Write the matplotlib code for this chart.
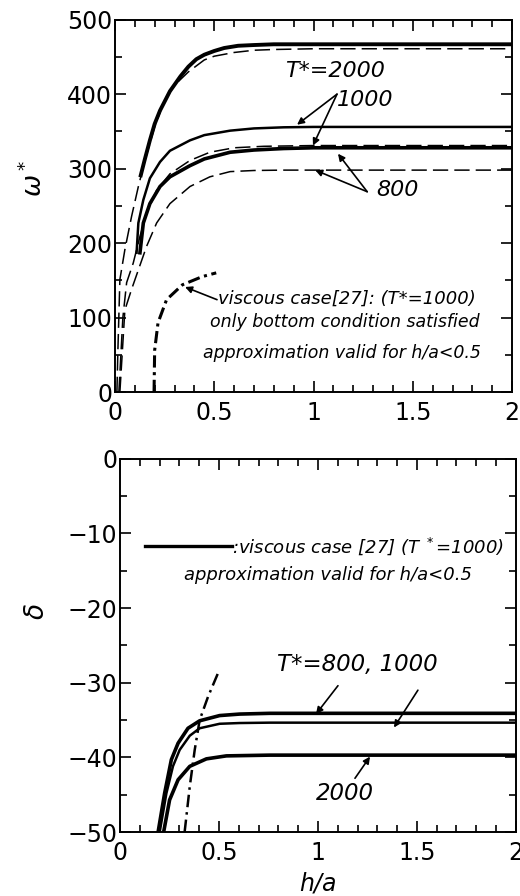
import matplotlib
matplotlib.use('Agg')
import matplotlib.pyplot as plt
from matplotlib.ticker import MultipleLocator

plt.rcParams['font.family'] = ['DejaVu Sans']
plt.rcParams['mathtext.fontset'] = 'dejavusans'

# ---- upper panel: omega* vs h/a ----
h_2000_s = [0.13, 0.15, 0.176, 0.2, 0.227, 0.277, 0.33, 0.37, 0.41, 0.45, 0.5, 0.55, 0.62, 0.7, 0.8, 2.0]
w_2000_s = [291, 312, 338, 360, 378, 404, 424, 437, 447, 453, 458, 462, 465, 466, 467, 467]
h_2000_d = [0.01, 0.015, 0.025, 0.05, 0.084, 0.118, 0.15, 0.2, 0.25, 0.3, 0.37, 0.45, 0.5, 0.6, 0.7, 0.8, 1.0, 2.0]
w_2000_d = [0, 56, 151, 191, 236, 276, 310, 356, 392, 412, 430, 446, 451, 456, 459, 460, 461, 461]

h_1000_s = [0.109, 0.118, 0.143, 0.176, 0.227, 0.277, 0.378, 0.45, 0.58, 0.7, 0.85, 1.0, 2.0]
w_1000_s = [187, 227, 258, 287, 309, 324, 338, 345, 351, 354, 355.5, 356, 356]
h_1000_d = [0.02, 0.04, 0.059, 0.092, 0.126, 0.16, 0.21, 0.277, 0.378, 0.478, 0.6, 0.75, 1.0, 2.0]
w_1000_d = [0, 100, 147, 173, 209, 240, 271, 293, 311, 322, 328, 330, 331, 331]

h_800_s = [0.126, 0.143, 0.176, 0.227, 0.277, 0.378, 0.45, 0.58, 0.7, 0.85, 1.0, 2.0]
w_800_s = [187, 227, 253, 276, 289, 304, 313, 322, 325, 327, 328, 328]
h_800_d = [0.025, 0.05, 0.084, 0.118, 0.16, 0.21, 0.277, 0.378, 0.478, 0.58, 0.7, 0.85, 1.0, 2.0]
w_800_d = [0, 110, 138, 164, 196, 227, 253, 276, 289, 296, 297.5, 298, 298, 298]

h_visc_w = [0.197, 0.2, 0.217, 0.26, 0.34, 0.44, 0.51]
w_visc = [0, 56, 93, 124, 144, 155, 160]

# ---- lower panel: delta vs h/a ----
h_800_b = [0.192, 0.225, 0.259, 0.293, 0.343, 0.402, 0.503, 0.604, 0.756, 1.0, 2.0]
d_800_b = [-50, -44.8, -40.3, -38.1, -36.1, -35.1, -34.4, -34.2, -34.1, -34.1, -34.1]
h_1000_b = [0.2, 0.234, 0.267, 0.301, 0.352, 0.402, 0.503, 0.604, 0.756, 1.0, 2.0]
d_1000_b = [-50, -44.8, -41.2, -39.0, -37.1, -36.1, -35.5, -35.4, -35.35, -35.35, -35.35]
h_2000_b = [0.22, 0.25, 0.293, 0.352, 0.436, 0.537, 0.756, 1.0, 2.0]
d_2000_b = [-50, -45.7, -43.0, -41.2, -40.2, -39.8, -39.7, -39.7, -39.7]
h_visc_d = [0.326, 0.352, 0.377, 0.402, 0.444, 0.495]
d_visc = [-50, -43.9, -39.0, -35.0, -31.9, -28.7]

fig = plt.figure(figsize=(5.2, 8.96), dpi=100)
ax1 = fig.add_axes([0.221, 0.5625, 0.764, 0.4155])
ax2 = fig.add_axes([0.231, 0.0714, 0.761, 0.4166])

dash = (0, (10, 4))

ax1.plot(h_2000_d, w_2000_d, color='k', lw=1.1, linestyle=dash)
ax1.plot(h_1000_d, w_1000_d, color='k', lw=1.1, linestyle=dash)
ax1.plot(h_800_d, w_800_d, color='k', lw=1.1, linestyle=dash)
ax1.plot(h_2000_s, w_2000_s, color='k', lw=2.8)
ax1.plot(h_1000_s, w_1000_s, color='k', lw=1.8)
ax1.plot(h_800_s, w_800_s, color='k', lw=2.6)
ax1.plot(h_visc_w, w_visc, color='k', lw=2.2, linestyle=(0, (4, 1.5, 1, 1.5)))

ax2.plot(h_800_b, d_800_b, color='k', lw=2.6)
ax2.plot(h_1000_b, d_1000_b, color='k', lw=1.8)
ax2.plot(h_2000_b, d_2000_b, color='k', lw=2.6)
ax2.plot(h_visc_d, d_visc, color='k', lw=1.8, linestyle=(0, (5, 2, 1, 2)))

for ax in (ax1, ax2):
    ax.set_xlim(0, 2)
    ax.xaxis.set_major_locator(MultipleLocator(0.5))
    ax.xaxis.set_minor_locator(MultipleLocator(0.1))
    ax.set_xticks([0, 0.5, 1, 1.5, 2])
    ax.set_xticklabels(['0', '0.5', '1', '1.5', '2'])
    ax.tick_params(which='both', direction='in', top=True, right=True,
                   labelsize=17, width=1.2, pad=2)
    ax.tick_params(axis='x', which='both', pad=6.5)
    ax.tick_params(which='major', length=8)
    ax.tick_params(which='minor', length=5)
    for s in ax.spines.values():
        s.set_linewidth(1.4)

ax1.set_ylim(0, 500)
ax1.yaxis.set_major_locator(MultipleLocator(100))
ax1.yaxis.set_minor_locator(MultipleLocator(50))
ax2.set_ylim(-50, 0)
ax2.yaxis.set_major_locator(MultipleLocator(10))
ax2.yaxis.set_minor_locator(MultipleLocator(5))
ax2.set_yticks([0, -10, -20, -30, -40, -50])
ax2.set_yticklabels(['0', '\u221210', '\u221220', '\u221230', '\u221240', '\u221250'])

ax1.set_ylabel(r'$\omega^*$', fontsize=19)
ax1.yaxis.set_label_coords(-0.168, 0.573)
ax2.set_ylabel(r'$\delta$', fontsize=19)
ax2.yaxis.set_label_coords(-0.178, 0.59)
ax2.set_xlabel('h/a', fontsize=17, style='italic')
ax2.xaxis.set_label_coords(0.5, -0.105)

# upper annotations
ap = dict(arrowstyle='-|>', color='k', lw=1.2, mutation_scale=10, shrinkA=0, shrinkB=0)
ax1.text(0.856, 431, 'T*=2000', fontsize=16, style='italic', va='center')
ax1.text(1.118, 392, '1000', fontsize=16, style='italic', va='center')
ax1.text(1.315, 271, '800', fontsize=16, style='italic', va='center')
ax1.annotate('', xy=(0.917, 359), xytext=(1.118, 400), arrowprops=ap)
ax1.annotate('', xy=(0.997, 331), xytext=(1.118, 400), arrowprops=ap)
ax1.annotate('', xy=(1.123, 320), xytext=(1.27, 269), arrowprops=ap)
ax1.annotate('', xy=(1.008, 298), xytext=(1.27, 269), arrowprops=ap)
ax1.annotate('', xy=(0.353, 141), xytext=(0.514, 124), arrowprops=ap)
ax1.text(0.52, 125, 'viscous case[27]: (T*=1000)', fontsize=13, style='italic', va='center')
ax1.text(1.159, 94, 'only bottom condition satisfied', fontsize=12.5, style='italic',
         va='center', ha='center')
ax1.text(1.141, 52, 'approximation valid for h/a<0.5', fontsize=12.5, style='italic',
         va='center', ha='center')

# lower annotations
ax2.plot([0.126, 0.566], [-11.66, -11.66], color='k', lw=2.4)
ax2.text(0.566, -11.66, ':viscous case [27] (T $^*$=1000)', fontsize=13, style='italic',
         va='center')
ax2.text(1.05, -15.55, 'approximation valid for h/a<0.5', fontsize=13, style='italic',
         va='center', ha='center')
ax2.text(0.793, -27.6, 'T*=800, 1000', fontsize=16.5, style='italic', va='center')
ax2.text(0.99, -44.8, '2000', fontsize=16.5, style='italic', va='center')
ax2.annotate('', xy=(0.99, -34.2), xytext=(1.101, -30.4), arrowprops=ap)
ax2.annotate('', xy=(1.384, -36.0), xytext=(1.505, -31.0), arrowprops=ap)
ax2.annotate('', xy=(1.263, -39.9), xytext=(1.187, -42.8), arrowprops=ap)

fig.savefig('out.png', dpi=100)
